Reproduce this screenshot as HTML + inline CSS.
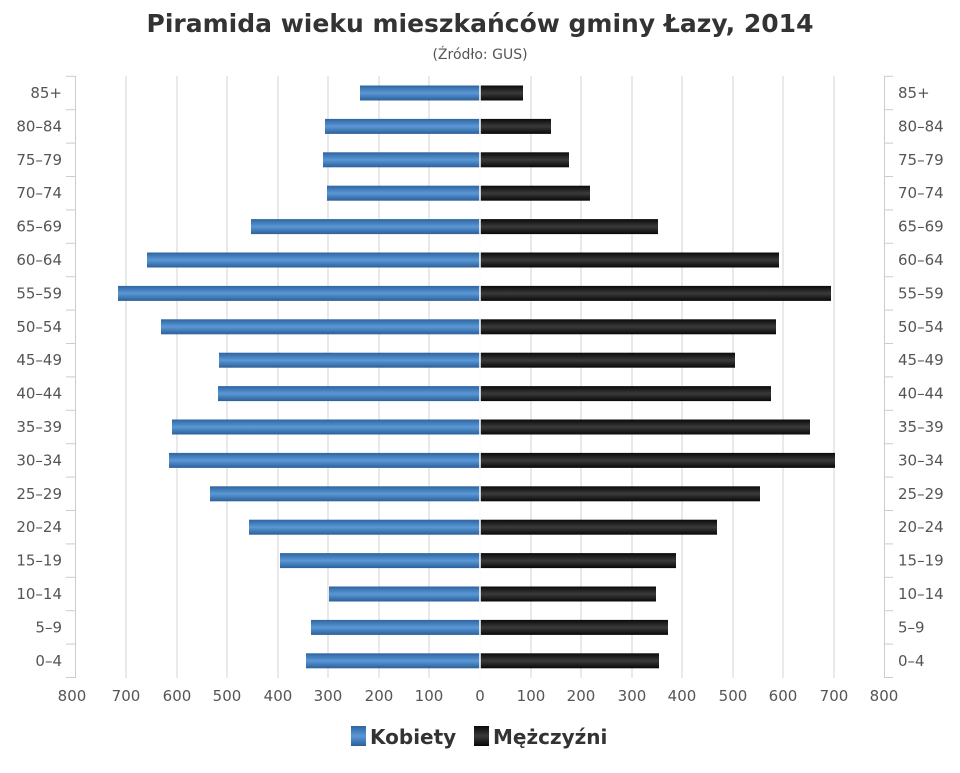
<!DOCTYPE html><html><head><meta charset="utf-8"><style>body{margin:0;background:#fff}</style></head><body>
<svg width="960" height="768" xmlns="http://www.w3.org/2000/svg" font-family="DejaVu Sans, Liberation Sans, sans-serif">
<defs>
<linearGradient id="b" x1="0" y1="0" x2="0" y2="1"><stop offset="0" stop-color="#2e64a0"/><stop offset="0.5" stop-color="#5a98d6"/><stop offset="1" stop-color="#2c5f99"/></linearGradient>
<linearGradient id="k" x1="0" y1="0" x2="0" y2="1"><stop offset="0" stop-color="#0a0a0a"/><stop offset="0.5" stop-color="#3a3a3a"/><stop offset="1" stop-color="#080808"/></linearGradient>
</defs>
<text x="480" y="32" text-anchor="middle" font-size="25" font-weight="bold" fill="#333">Piramida wieku mieszkańców gminy Łazy, 2014</text>
<text x="480" y="59" text-anchor="middle" font-size="14" fill="#555">(Źródło: GUS)</text>
<g stroke="#e2e2e2" stroke-width="1.5">
<line x1="126" y1="76" x2="126" y2="678"/><line x1="177" y1="76" x2="177" y2="678"/><line x1="227" y1="76" x2="227" y2="678"/><line x1="278" y1="76" x2="278" y2="678"/><line x1="328" y1="76" x2="328" y2="678"/><line x1="379" y1="76" x2="379" y2="678"/><line x1="429" y1="76" x2="429" y2="678"/><line x1="480" y1="76" x2="480" y2="678"/><line x1="531" y1="76" x2="531" y2="678"/><line x1="581" y1="76" x2="581" y2="678"/><line x1="632" y1="76" x2="632" y2="678"/><line x1="682" y1="76" x2="682" y2="678"/><line x1="733" y1="76" x2="733" y2="678"/><line x1="783" y1="76" x2="783" y2="678"/><line x1="834" y1="76" x2="834" y2="678"/>
</g>
<g stroke="#ccc" stroke-width="1"><line x1="75.5" y1="76" x2="75.5" y2="678"/><line x1="884.5" y1="76" x2="884.5" y2="678"/></g>
<g id="ticks" stroke="#ccc"></g>
<g id="bars"></g>
<g id="lab" font-size="15" fill="#555"></g>
<g font-size="15" fill="#555" text-anchor="middle">
<text x="72" y="701">800</text><text x="126" y="701">700</text><text x="177" y="701">600</text><text x="227" y="701">500</text><text x="278" y="701">400</text><text x="328" y="701">300</text><text x="379" y="701">200</text><text x="429" y="701">100</text><text x="480" y="701">0</text><text x="531" y="701">100</text><text x="581" y="701">200</text><text x="632" y="701">300</text><text x="682" y="701">400</text><text x="733" y="701">500</text><text x="783" y="701">600</text><text x="834" y="701">700</text><text x="884" y="701">800</text>
</g>
<rect x="351" y="726" width="15" height="20" fill="url(#b)"/>
<text x="370" y="744" font-size="20" font-weight="bold" fill="#333">Kobiety</text>
<rect x="474" y="726" width="15" height="20" fill="url(#k)"/>
<text x="493" y="744" font-size="20" font-weight="bold" fill="#333">Mężczyźni</text>
</svg>
<script>
var L=["85+","80–84","75–79","70–74","65–69","60–64","55–59","50–54","45–49","40–44","35–39","30–34","25–29","20–24","15–19","10–14","5–9","0–4"];
var lx=[360,325,323,327,251,147,118,161,219,218,172,169,210,249,280,329,311,306];
var rx=[523,551,569,590,658,779,831,776,735,771,810,835,760,717,676,656,668,659];
var ns="http://www.w3.org/2000/svg";
function el(p,t,a,tx){var e=document.createElementNS(ns,t);for(var k in a)e.setAttribute(k,a[k]);if(tx)e.textContent=tx;document.getElementById(p).appendChild(e);}
for(var i=0;i<18;i++){var y=93+33.4*i;
el("bars","rect",{x:lx[i],y:y-7.5,width:480-lx[i],height:15,fill:"url(#b)"});
el("bars","rect",{x:480,y:y-7.5,width:rx[i]-480,height:15,fill:"url(#k)"});
el("lab","text",{x:62,y:y+5,"text-anchor":"end"},L[i]);
el("lab","text",{x:898,y:y+5},L[i]);}
for(var j=0;j<=18;j++){var t=76.3+33.4*j;el("ticks","line",{x1:66,x2:75,y1:t,y2:t});el("ticks","line",{x1:884,x2:893,y1:t,y2:t});}
el("bars","line",{x1:480,x2:480,y1:76,y2:678,stroke:"#fff","stroke-width":1.5});
</script>
</body></html>
